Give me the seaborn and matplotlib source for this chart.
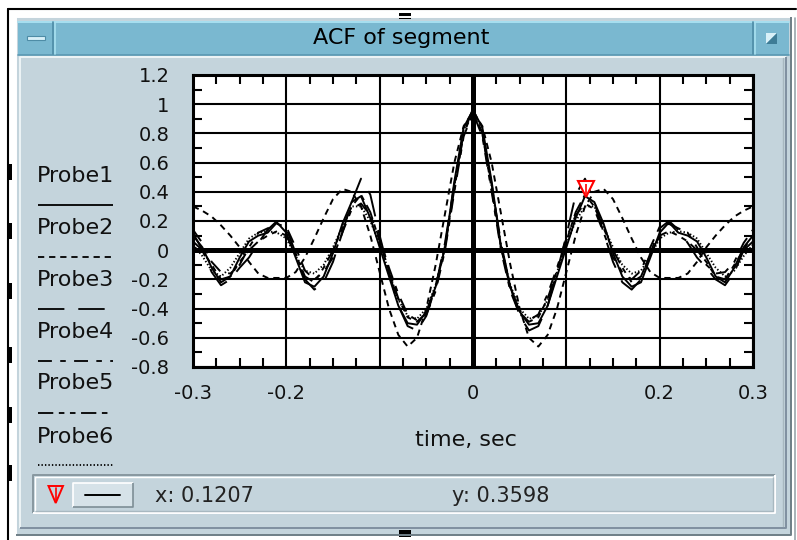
import numpy as np
import pandas as pd
import matplotlib
matplotlib.use("Agg")
import matplotlib.pyplot as plt
import matplotlib.patches as mpatches
from matplotlib.ticker import MultipleLocator
from matplotlib.transforms import offset_copy
import seaborn as sns

# --- data -------------------------------------------------------------------
# ACF is symmetric, so only lags 0 .. 0.3 s are kept; negative side is mirrored
lag_half = [0.00, 0.01, 0.02, 0.03, 0.04, 0.05, 0.06, 0.07, 0.08, 0.09, 0.10,
            0.11, 0.12, 0.13, 0.14, 0.15, 0.16, 0.17, 0.18, 0.19, 0.20,
            0.21, 0.22, 0.23, 0.24, 0.25, 0.26, 0.27, 0.28, 0.29, 0.30]

probe1_half = [0.96, 0.84, 0.47, 0.02, -0.25, -0.42, -0.51, -0.50, -0.38, -0.18, 0.02,
               0.22, 0.37, 0.33, 0.18, -0.02, -0.18, -0.25, -0.22, -0.05, 0.12,
               0.19, 0.12, 0.10, 0.06, -0.05, -0.18, -0.22, -0.12, 0.02, 0.10]
probe2_half = [0.95, 0.85, 0.60, 0.25, -0.10, -0.40, -0.60, -0.66, -0.58, -0.40, -0.15,
               0.10, 0.30, 0.40, 0.42, 0.35, 0.22, 0.08, -0.05, -0.15, -0.19,
               -0.19, -0.19, -0.16, -0.08, 0.02, 0.10, 0.17, 0.23, 0.27, 0.30]
probe3_half = [0.97, 0.80, 0.45, 0.05, -0.25, -0.45, -0.55, -0.52, -0.38, -0.15, 0.10,
               0.38, 0.49, 0.33, 0.12, -0.08, -0.22, -0.27, -0.20, -0.02, 0.15,
               0.20, 0.14, 0.05, -0.05, -0.12, -0.20, -0.24, -0.15, 0.00, 0.12]
probe4_half = [0.94, 0.78, 0.40, 0.00, -0.28, -0.44, -0.48, -0.44, -0.30, -0.12, 0.08,
               0.24, 0.32, 0.28, 0.12, -0.05, -0.15, -0.20, -0.14, 0.02, 0.16,
               0.18, 0.15, 0.12, 0.02, -0.10, -0.16, -0.15, -0.08, 0.05, 0.14]
probe5_half = [0.95, 0.80, 0.42, 0.02, -0.26, -0.43, -0.49, -0.46, -0.33, -0.14, 0.06,
               0.26, 0.38, 0.30, 0.15, 0.00, -0.12, -0.22, -0.18, -0.03, 0.10,
               0.13, 0.10, 0.06, 0.00, -0.08, -0.18, -0.20, -0.10, 0.00, 0.06]
probe6_half = [0.96, 0.82, 0.44, 0.03, -0.24, -0.40, -0.47, -0.45, -0.34, -0.15, 0.04,
               0.20, 0.30, 0.30, 0.16, 0.02, -0.10, -0.16, -0.14, -0.04, 0.08,
               0.12, 0.13, 0.12, 0.08, -0.02, -0.12, -0.18, -0.14, -0.04, 0.04]

probe_names = ["Probe1", "Probe2", "Probe3", "Probe4", "Probe5", "Probe6"]
probe_halves = [probe1_half, probe2_half, probe3_half, probe4_half, probe5_half, probe6_half]

cursor_x = 0.1207
cursor_y = 0.3598

x_ticks = [-0.3, -0.2, -0.1, 0.0, 0.1, 0.2, 0.3]
x_tick_labels = ["-0.3", "-0.2", "", "0", "", "0.2", "0.3"]
y_ticks = [-0.8, -0.6, -0.4, -0.2, 0.0, 0.2, 0.4, 0.6, 0.8, 1.0, 1.2]
y_tick_labels = ["-0.8", "-0.6", "-0.4", "-0.2", "0", "0.2", "0.4", "0.6", "0.8", "1", "1.2"]

# dash patterns (on/off in points, not scaled by line width)
dash_map = {
    "Probe1": "",
    "Probe2": (4.5, 3.5),
    "Probe3": (19, 10),
    "Probe4": (10, 6, 4, 6),
    "Probe5": (11, 4, 4, 4, 4, 4),
    "Probe6": (1, 1.5),
}

rows = []
lag_arr = np.array(lag_half)
for name, half in zip(probe_names, probe_halves):
    half = np.array(half)
    t = np.concatenate([-lag_arr[:0:-1], lag_arr])
    v = np.concatenate([half[:0:-1], half])
    rows.append(pd.DataFrame({"time": t, "acf": v, "probe": name}))
df = pd.concat(rows, ignore_index=True)

# --- style ------------------------------------------------------------------
sns.set_theme(style="white")
plt.rcParams["font.family"] = ["DejaVu Sans"]
plt.rcParams["lines.scale_dashes"] = False

W, H = 797, 540
BODY = "#C4D4DC"
TITLE = "#7AB8D0"

fig = plt.figure(figsize=(W / 100, H / 100), dpi=100)
fig.patch.set_facecolor("white")

# background axes in pixel coordinates for the window chrome
bg = fig.add_axes([0, 0, 1, 1], zorder=0)
bg.set_xlim(0, W)
bg.set_ylim(H, 0)
bg.axis("off")


def rect(x0, y0, x1, y1, **kw):
    bg.add_patch(mpatches.Rectangle((x0, y0), x1 - x0, y1 - y0, **kw))


def bevel(x0, y0, x1, y1, light, dark, lw=1.2):
    bg.plot([x0, x0, x1], [y1, y0, y0], color=light, lw=lw, solid_capstyle="butt")
    bg.plot([x0, x1, x1], [y1, y1, y0], color=dark, lw=lw, solid_capstyle="butt")


# outer screenshot border
bg.plot([8, 8], [9, H], color="black", lw=1.5)
bg.plot([8, 796], [9, 9], color="black", lw=1.5)
bg.plot([795, 795], [18, H], color="#9AA6AC", lw=1.2)

# window frame
rect(16, 17, 791, 535, fc=BODY, ec="none")
bevel(16, 17, 791, 535, "white", "#6E7E86", lw=1.4)
bevel(20, 57, 786, 528, "#EEF4F6", "#8090A0", lw=1.4)
bg.plot([783, 783], [58, 526], color="#A8B8C0", lw=1.0)

# title bar
rect(18, 21, 789, 55, fc=TITLE, ec="none")
bg.plot([18, 789], [21.5, 21.5], color="#A8E0F0", lw=1.4)
bg.plot([18, 789], [54.5, 54.5], color="#5A98B2", lw=1.2)
bg.plot([53, 53], [22, 54], color="#4E8CA6", lw=1.2)
bg.plot([55, 55], [22, 54], color="#A8E0F0", lw=1.2)
bg.plot([753, 753], [22, 54], color="#4E8CA6", lw=1.2)
bg.plot([755, 755], [22, 54], color="#A8E0F0", lw=1.2)
rect(27, 36, 45, 40, fc="#D8F0F8", ec="#4E8CA6", lw=0.8)
bg.add_patch(mpatches.Polygon([[766, 33], [777, 33], [766, 44]], closed=True, fc="#D8F0F8", ec="none"))
bg.add_patch(mpatches.Polygon([[777, 33], [777, 44], [766, 44]], closed=True, fc="#3E7C96", ec="none"))
bg.text(401, 38, "ACF of segment", fontsize=16, ha="center", va="center", color="black")

# input pins on the left edge and sequence pins top / bottom
for yy in [172, 231, 291, 355, 415, 473]:
    rect(7.5, yy - 8, 12, yy + 8, fc="black", ec="none")
rect(399, 13, 411, 18.5, fc="black", ec="none")
rect(399, 530, 411, 537, fc="black", ec="none")

# legend column
legend_y = [176, 228, 280, 332, 383, 437]
line_y = [205, 257, 309, 361, 413, 465]
for name, ty, ly in zip(probe_names, legend_y, line_y):
    bg.text(37, ty, name, fontsize=16, ha="left", va="center", color="#111111")
    dash = dash_map[name]
    ln, = bg.plot([38, 113], [ly, ly], color="black", lw=1.3, solid_capstyle="butt")
    if dash:
        ln.set_dashes(dash)

# status bar
bevel(33, 475, 775, 513, "#8898A0", "white", lw=1.4)
bevel(35, 477, 773, 511, "white", "#A8B8C0", lw=1.0)
rect(73, 483, 133, 507, fc="#D6E2E8", ec="none")
bevel(73, 483, 133, 507, "white", "#7E8E96", lw=1.2)
bg.plot([85, 120], [495, 495], color="black", lw=1.4)
bg.add_patch(mpatches.Polygon([[48.5, 486], [63, 486], [55.7, 503]], closed=True,
                              fc="none", ec="red", lw=1.4))
bg.plot([55.7, 55.7], [488, 500], color="red", lw=1.2)
bg.text(155, 496, f"x: {cursor_x:.4f}", fontsize=15, ha="left", va="center", color="#222222")
bg.text(452, 496, f"y: {cursor_y:.4f}", fontsize=15, ha="left", va="center", color="#222222")

# --- plot area ---------------------------------------------------------------
ax = fig.add_axes([193 / W, 1 - 367 / H, 560 / W, 292 / H], zorder=2)
ax.set_facecolor("white")

sns.lineplot(data=df, x="time", y="acf", style="probe", style_order=probe_names,
             dashes=dash_map, color="black", linewidth=1.4, estimator=None,
             errorbar=None, legend=False, ax=ax, zorder=4)

ax.axhline(0, color="black", lw=3.6, zorder=3)
ax.axvline(0, color="black", lw=3.6, zorder=3)

ax.set_xlim(-0.3, 0.3)
ax.set_ylim(-0.8, 1.2)
ax.set_xticks(x_ticks)
ax.set_xticklabels(x_tick_labels)
ax.set_yticks(y_ticks)
ax.set_yticklabels(y_tick_labels)
ax.xaxis.set_minor_locator(MultipleLocator(0.025))
ax.yaxis.set_minor_locator(MultipleLocator(0.1))

ax.grid(True, which="major", color="black", lw=1.5)
ax.set_axisbelow(True)
ax.tick_params(which="major", direction="in", length=0, labelsize=14, labelcolor="#111111")
ax.tick_params(axis="x", which="major", pad=12)
ax.tick_params(axis="y", which="major", pad=17)
ax.tick_params(which="minor", direction="in", length=6.5, width=1.5, color="black",
               top=True, bottom=True, left=True, right=True)
for sp in ax.spines.values():
    sp.set_color("black")
    sp.set_linewidth(2.2)

ax.set_xlabel("time, sec", fontsize=16, color="#111111")
ax.set_ylabel("")
ax.xaxis.set_label_coords(0.4875, -0.215)

# cursor marker (drawn just above the cursor point)
mark_tr = offset_copy(ax.transData, fig=fig, x=0, y=9, units="dots")
ax.plot([cursor_x], [cursor_y], marker="v", markersize=11, mfc="white", mec="red",
        mew=1.5, transform=mark_tr, zorder=6, clip_on=False)
ax.plot([cursor_x], [cursor_y], marker="|", markersize=7, mec="red",
        mew=1.2, transform=mark_tr, zorder=7, clip_on=False)

fig.savefig("out.png", dpi=100, facecolor="white")
